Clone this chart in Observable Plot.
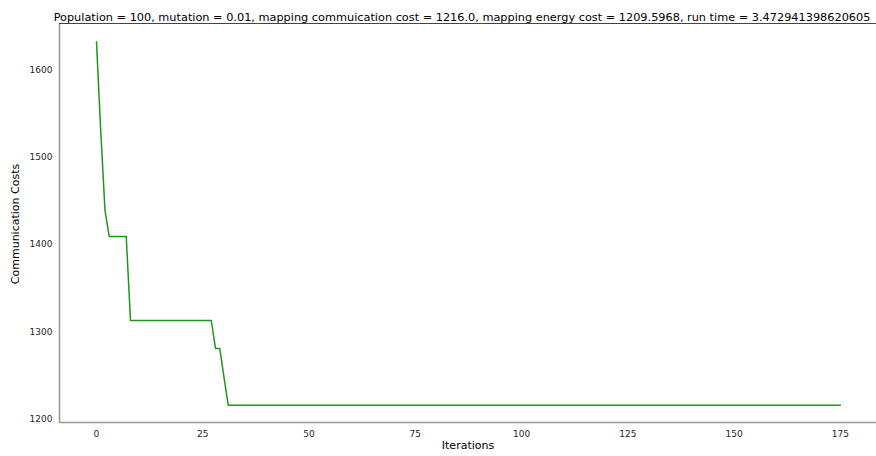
<!DOCTYPE html>
<html>
<head>
<meta charset="utf-8">
<script src="https://cdn.jsdelivr.net/npm/d3@7"></script>
<script src="https://cdn.jsdelivr.net/npm/@observablehq/plot@0.6"></script>
<style>
  html, body { margin: 0; padding: 0; background: #fff; overflow: hidden; }
  svg { font-family: "DejaVu Sans", sans-serif; }
</style>
</head>
<body>
<div id="chart"></div>
<script>
const titleText = "Population = 100, mutation = 0.01, mapping commuication cost = 1216.0, mapping energy cost = 1209.5968, run time = 3.472941398620605";
const iterations = [0, 1, 2, 3, 7, 8, 27, 28, 29, 30, 31, 175];
const costs = [1632, 1530, 1439, 1409, 1409, 1313, 1313, 1281, 1281, 1248, 1216, 1216];
const xTicks = [0, 25, 50, 75, 100, 125, 150, 175];
const yTicks = [1200, 1300, 1400, 1500, 1600];
const xDomain = [-8.7, 183.5];
const yDomain = [1196.3, 1652.8];

const data = iterations.map((it, i) => ({iteration: it, cost: costs[i]}));

const chart = Plot.plot({
  width: 876,
  height: 456,
  marginLeft: 59,
  marginRight: 0,
  marginTop: 23,
  marginBottom: 34,
  style: {fontFamily: "DejaVu Sans, sans-serif", fontSize: "9px", color: "#262626", background: "#fff", overflow: "visible"},
  x: {domain: xDomain, ticks: xTicks, tickSize: 0, tickPadding: 8, tickFormat: "d", label: null},
  y: {domain: yDomain, ticks: yTicks, tickSize: 0, tickPadding: 7, tickFormat: "d", label: null},
  marks: [
    Plot.ruleX([xDomain[0]], {stroke: "#999", strokeWidth: 1.6}),
    Plot.ruleY([yDomain[0]], {stroke: "#999", strokeWidth: 1.6}),
    Plot.ruleY([yDomain[1]], {stroke: "#444", strokeWidth: 1.2}),
    Plot.line(data, {x: "iteration", y: "cost", stroke: "#1f961f", strokeWidth: 1.5}),
    Plot.text([titleText], {frameAnchor: "top", dy: -11, dx: -6, fontSize: 11.3, fill: "#000"}),
    Plot.text(["Iterations"], {frameAnchor: "bottom", dy: 26, fontSize: 11, fill: "#000"}),
    Plot.text(["Communication Costs"], {frameAnchor: "left", textAnchor: "middle", dx: -44, dy: 1, rotate: -90, fontSize: 11, fill: "#000"})
  ]
});
document.getElementById("chart").appendChild(chart);
</script>
</body>
</html>
